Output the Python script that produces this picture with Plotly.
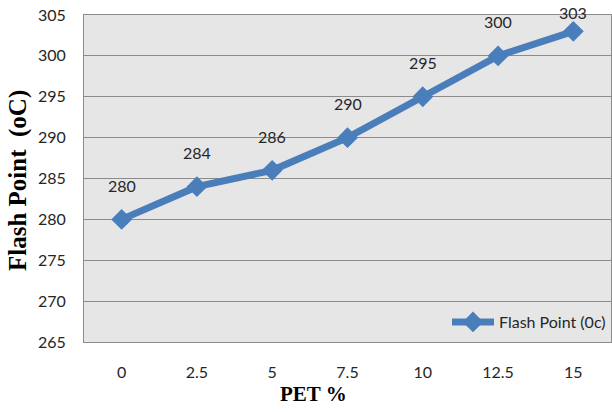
import plotly.graph_objects as go

# PET content (%) and measured flash point (°C)
pet_percent = ["0", "2.5", "5", "7.5", "10", "12.5", "15"]
flash_point = [280, 284, 286, 290, 295, 300, 303]
y_ticks = [265, 270, 275, 280, 285, 290, 295, 300, 305]

series_name = "Flash Point (0c)"
blue = "#4a7ebb"
label_font = dict(family="Lato", size=16, color="#262626")

fig = go.Figure()
fig.add_trace(go.Scatter(
    x=pet_percent,
    y=flash_point,
    mode="lines+markers",
    name=series_name,
    line=dict(color=blue, width=7),
    marker=dict(symbol="diamond", size=16, color=blue),
    showlegend=True,
))

W, H = 612, 412
margin = dict(l=84, r=1, t=15, b=70)
y_min, y_max = y_ticks[0], y_ticks[-1]
plot_h = H - margin["t"] - margin["b"]
plot_w = W - margin["l"] - margin["r"]
px_per_unit = plot_h / (y_max - y_min)

# value labels above each point, kept from running off the top of the plot
annotations = []
for i, v in enumerate(flash_point):
    shift = min(34, (y_max - v) * px_per_unit + 3)
    annotations.append(dict(
        x=i, y=v, xref="x", yref="y", text=str(v), showarrow=False,
        yshift=shift, font=label_font,
    ))

annotations.append(dict(
    text="<b>PET %</b>", showarrow=False, xref="paper", yref="paper",
    x=(313 - margin["l"]) / plot_w, y=-52 / plot_h,
    xanchor="center", yanchor="middle",
    font=dict(family="Liberation Serif", size=21, color="black"),
))
annotations.append(dict(
    text="<b>Flash Point  (oC)</b>", showarrow=False, xref="paper", yref="paper",
    x=(18 - margin["l"]) / plot_w, y=(H - margin["b"] - 181) / plot_h,
    xanchor="center", yanchor="middle", textangle=-90,
    font=dict(family="Liberation Serif", size=25, color="black"),
))

fig.update_layout(
    width=W, height=H,
    margin=margin,
    paper_bgcolor="white",
    plot_bgcolor="#e6e6e6",
    annotations=annotations,
    legend=dict(
        x=1, y=(H - margin["b"] - 322) / plot_h,
        xanchor="right", yanchor="middle",
        bgcolor="rgba(0,0,0,0)",
        font=label_font,
        itemwidth=42,
    ),
)
fig.update_xaxes(
    type="category",
    range=[-0.5, len(pet_percent) - 0.5],
    showgrid=False,
    showline=True, linecolor="#8c8c8c", linewidth=1, mirror=True,
    ticks="", ticklabelstandoff=16,
    tickfont=dict(family="Lato", size=16, color="#262626"),
)
fig.update_yaxes(
    range=[y_min, y_max],
    tickvals=y_ticks,
    showgrid=True, gridcolor="#8c8c8c", gridwidth=1,
    zeroline=False,
    showline=True, linecolor="#8c8c8c", linewidth=1, mirror=True,
    ticks="", ticklabelstandoff=14,
    tickfont=dict(family="Lato", size=16, color="#262626"),
)

fig.write_html("out.html")
